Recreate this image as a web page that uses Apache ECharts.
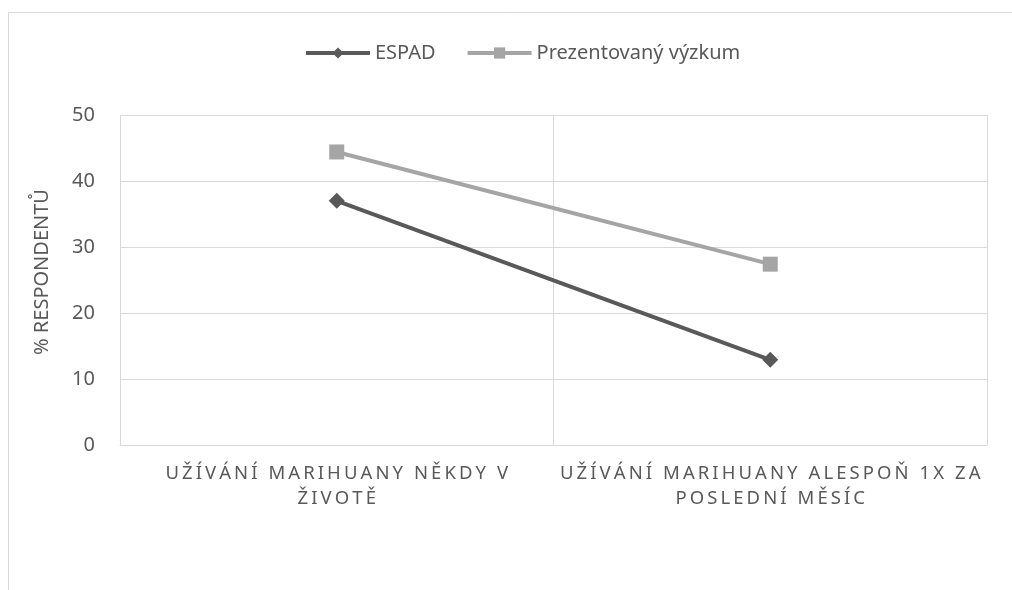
<!DOCTYPE html>
<html>
<head>
<meta charset="utf-8">
<script src="https://cdn.jsdelivr.net/npm/echarts@6/dist/echarts.min.js"></script>
<style>
  html, body { margin: 0; padding: 0; background: #fff; }
  #chart { width: 1012px; height: 590px; }
</style>
</head>
<body>
<div id="chart"></div>
<script>
// kategorie na ose x (zalomené jako v originálu)
const categories = [
  'UŽÍVÁNÍ MARIHUANY NĚKDY V\nŽIVOTĚ',
  'UŽÍVÁNÍ MARIHUANY ALESPOŇ 1X ZA\nPOSLEDNÍ MĚSÍC'
]
const espad = [37, 12.9]
const prezentovany = [44.4, 27.4]
const yTicks = { min: 0, max: 50, interval: 10 }

// roztažení písmen (canvas nemá letter-spacing v echarts)
function spaced (s) {
  return s.split('\n').map(line => line.split('').join('\u2009')).join('\n')
}

const chart = echarts.init(document.getElementById('chart'))
const font = 'Noto Sans'
const option = {
  backgroundColor: '#fff',
  animation: false,
  graphic: [
    { type: 'line', shape: { x1: 8.5, y1: 12.5, x2: 1012, y2: 12.5 }, style: { stroke: '#d9d9d9', lineWidth: 1 } },
    { type: 'line', shape: { x1: 8.5, y1: 12.5, x2: 8.5, y2: 590 }, style: { stroke: '#d9d9d9', lineWidth: 1 } }
  ],
  legend: {
    top: 38,
    left: 299,
    itemWidth: 64,
    itemHeight: 14,
    itemGap: 30,
    lineStyle: { width: 4 },
    textStyle: { fontFamily: font, fontSize: 20, color: '#595959' },
    data: ['ESPAD', 'Prezentovaný výzkum']
  },
  grid: { left: 120, right: 25, top: 115, bottom: 145 },
  xAxis: {
    type: 'category',
    data: categories,
    boundaryGap: true,
    axisLine: { lineStyle: { color: '#d9d9d9', width: 1 } },
    axisTick: { show: false },
    splitLine: { show: true, lineStyle: { color: '#d9d9d9', width: 1 } },
    axisLabel: {
      interval: 0,
      margin: 16,
      lineHeight: 25,
      fontFamily: font,
      fontSize: 18.5,
      color: '#595959',
      formatter: v => spaced(v)
    }
  },
  yAxis: {
    type: 'value',
    min: yTicks.min,
    max: yTicks.max,
    interval: yTicks.interval,
    name: '% RESPONDENTŮ',
    nameLocation: 'middle',
    nameGap: 68,
    nameTextStyle: { fontFamily: font, fontSize: 20, color: '#595959', padding: [0, 0, 0, 16] },
    axisLine: { show: false },
    axisTick: { show: false },
    splitLine: { lineStyle: { color: '#d9d9d9', width: 1 } },
    axisLabel: { margin: 25, fontFamily: font, fontSize: 20, color: '#595959' }
  },
  series: [
    {
      name: 'ESPAD',
      type: 'line',
      data: espad,
      symbol: 'diamond',
      symbolSize: 16,
      lineStyle: { color: '#595959', width: 4 },
      itemStyle: { color: '#595959' }
    },
    {
      name: 'Prezentovaný výzkum',
      type: 'line',
      data: prezentovany,
      symbol: 'rect',
      symbolSize: 15,
      lineStyle: { color: '#a5a5a5', width: 4 },
      itemStyle: { color: '#a5a5a5' }
    }
  ]
}
chart.setOption(option)
</script>
</body>
</html>
